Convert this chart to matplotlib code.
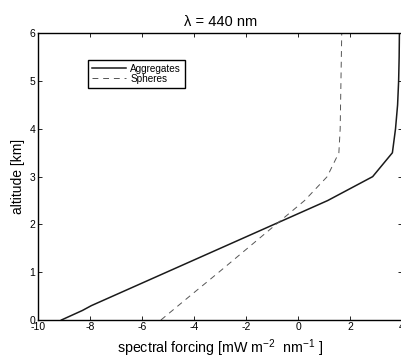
import numpy as np
import matplotlib
matplotlib.use('Agg')
import matplotlib.pyplot as plt

plt.rcParams['font.family'] = ['Liberation Sans', 'DejaVu Sans']
plt.rcParams['mathtext.default'] = 'regular'
plt.rcParams['axes.unicode_minus'] = False

# altitude profiles of spectral forcing at 440 nm
agg_y = [0.0, 0.2, 0.3, 2.5, 3.0, 3.5, 4.0, 4.5, 5.0, 5.5, 6.0]
agg_x = [-9.11, -8.3, -7.96, 1.14, 2.87, 3.63, 3.75, 3.83, 3.87, 3.89, 3.9]

sph_y = [0.0, 0.5, 1.0, 1.5, 2.0, 2.5, 3.0, 3.5, 4.0, 5.0, 6.0]
sph_x = [-5.28, -4.17, -3.05, -1.95, -0.85, 0.25, 1.12, 1.57, 1.62, 1.65, 1.68]

xticks = np.arange(-10, 5, 2)
yticks = np.arange(0, 7, 1)

fig = plt.figure(figsize=(4.01, 3.55), dpi=100)
ax = fig.add_axes([0.0955, 0.0986, 0.907, 0.8076])

ax.plot(agg_x, agg_y, color='#1a1a1a', lw=1.1, label='Aggregates')
ax.plot(sph_x, sph_y, color='#555555', lw=0.7, linestyle=(0, (6, 5)), label='Spheres')

ax.set_xlim(-10, 4)
ax.set_ylim(0, 6)
ax.set_xticks(xticks)
ax.set_yticks(yticks)
ax.tick_params(direction='in', top=True, right=True, length=2.8, width=0.6,
               labelsize=7.5, pad=2)
ax.tick_params(axis='x', pad=1.5)
for s in ax.spines.values():
    s.set_linewidth(1.0)

ax.set_title('λ = 440 nm', fontsize=10.5, pad=5)
ax.set_ylabel('altitude [km]', fontsize=10, labelpad=3)
ax.set_xlabel('spectral forcing [mW m$^{-2}$  nm$^{-1}$ ]', fontsize=10.3, labelpad=4)

leg = ax.legend(loc='upper left', bbox_to_anchor=(0.1375, 0.907), borderaxespad=0,
                fontsize=7.2, handlelength=3.4, handletextpad=0.4, labelspacing=0.0,
                borderpad=0.4, fancybox=False, framealpha=1, edgecolor='black')
leg.get_frame().set_linewidth(1.0)

fig.savefig('out.png', dpi=100)
